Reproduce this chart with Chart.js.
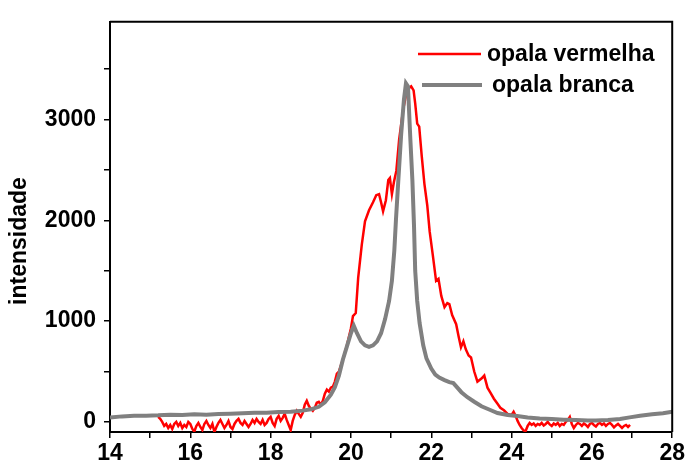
<!DOCTYPE html>
<html>
  <head>
    <meta charset="utf-8" />
    <title>opala</title>
    <style>
      body { margin: 0; background: #fff; }
      canvas { display: block; }
    </style>
  </head>
  <body>
    <canvas id="myChart" width="687" height="467"></canvas>

    <script src="https://cdn.jsdelivr.net/npm/chart.js@4/dist/chart.umd.min.js"></script>
    <script>
      // values
      const redLabel = "opala vermelha";
      const grayLabel = "opala branca";

      const redX = [
        15.2, 15.25, 15.3, 15.35, 15.4, 15.45, 15.5, 15.55, 15.6, 15.65, 15.7, 15.75,
        15.8, 15.85, 15.9, 15.95, 16.0, 16.05, 16.1, 16.15, 16.2, 16.25, 16.3, 16.35,
        16.4, 16.45, 16.5, 16.55, 16.6, 16.65, 16.7, 16.75, 16.8, 16.85, 16.9, 16.95,
        17.0, 17.05, 17.1, 17.15, 17.2, 17.25, 17.3, 17.35, 17.4, 17.45, 17.5, 17.55,
        17.6, 17.65, 17.7, 17.75, 17.8, 17.85, 17.9, 17.95, 18.0, 18.05, 18.1, 18.15,
        18.2, 18.25, 18.3, 18.35, 18.4, 18.45, 18.5, 18.55, 18.6, 18.65, 18.7, 18.75,
        18.8, 18.85, 18.9, 18.95, 19.0, 19.05, 19.1, 19.15, 19.2, 19.25, 19.3, 19.35,
        19.4, 19.45, 19.5, 19.55, 19.6, 19.65, 19.7, 19.75, 19.8, 19.9,
        20.0, 20.05, 20.12, 20.18, 20.27, 20.35, 20.45, 20.55, 20.63, 20.7,
        20.75, 20.8, 20.87, 20.93, 20.97, 21.02, 21.07, 21.13, 21.2, 21.3, 21.4,
        21.5, 21.56, 21.6, 21.65, 21.7, 21.76, 21.83, 21.9, 21.96, 22.04, 22.12,
        22.18, 22.25, 22.33, 22.4, 22.45, 22.52, 22.62, 22.68, 22.74, 22.8, 22.86,
        22.93, 22.99, 23.07, 23.15, 23.25, 23.32, 23.4, 23.48, 23.56, 23.65, 23.72,
        23.81, 23.9, 24.0, 24.05, 24.1, 24.15, 24.2, 24.25, 24.3, 24.35, 24.4, 24.45,
        24.5, 24.55, 24.6, 24.65, 24.7, 24.75, 24.8, 24.85, 24.9, 24.95, 25.0, 25.05,
        25.1, 25.15, 25.2, 25.25, 25.3, 25.35, 25.4, 25.45, 25.5, 25.55, 25.6, 25.65,
        25.7, 25.75, 25.8, 25.85, 25.9, 25.95, 26.0, 26.05, 26.1, 26.15, 26.2, 26.25,
        26.3, 26.35, 26.4, 26.45, 26.5, 26.55, 26.6, 26.65, 26.7, 26.75, 26.8, 26.85,
        26.9, 26.95
      ];
      const redY = [
        50, 30, 0, -40, -20, -60, -30, -70, -20, 0, -40, -10,
        -60, -30, -50, 0, -20, -70, -95, -40, -10, -50, -80, -20,
        10, -30, -60, -20, -100, -50, -10, 20, -20, -60, -30, 10,
        -50, -70, -20, 10, 30, -10, -30, 10, -20, -50, -20, 20,
        -10, 30, 0, -20, 20, -30, -10, 30, 50, -10, -40, 30,
        60, 10, 40, 80, 20, -30, -80, 10, 70, 110, 80, 50,
        90, 170, 210, 160, 130, 110, 140, 190, 200, 170, 210, 280,
        320, 300, 340, 350, 400, 480, 500, 560, 620, 760,
        930, 1050, 1080, 1430, 1760, 1990, 2100, 2180, 2250, 2260,
        2180, 2090, 2200, 2400, 2420, 2260, 2380, 2490, 2800, 3100, 3300,
        3330, 3290, 3160, 2960, 2930, 2650, 2360, 2150, 1890, 1650, 1400,
        1420, 1250, 1140, 1180, 1170, 1060, 970, 850, 740, 800, 720,
        660, 640, 500, 400, 430, 460, 340, 285, 230, 180, 140,
        115, 80, 70, 100, 60, 10, -30, -60, -85, -90, -40, -10,
        -30, -15, -40, -20, -30, -10, -35, -20, 0, -25, -40, -15,
        -30, -10, -40, -20, -30, 0, 20, 50, -20, -60, -30, -10,
        -20, -40, -15, -30, -50, -20, -10, -30, -45, -20, -10, -30,
        -15, -40, -20, -10, -30, -55, -35, -20, -40, -60, -40, -30,
        -50, -30
      ];

      const grayX = [
        14.0, 14.3, 14.6, 14.9, 15.2, 15.5, 15.8, 16.1, 16.4, 16.7, 17.0, 17.3,
        17.6, 17.9, 18.2, 18.5, 18.8, 19.0, 19.2, 19.35, 19.5, 19.6, 19.7, 19.8,
        19.9, 20.0, 20.07, 20.15, 20.25, 20.35, 20.45, 20.55, 20.65, 20.75, 20.85,
        20.95, 21.02, 21.08, 21.12, 21.18, 21.25, 21.32, 21.37, 21.42, 21.48,
        21.53, 21.57, 21.6, 21.65, 21.71, 21.8, 21.88, 22.0, 22.1, 22.2, 22.33,
        22.45, 22.55, 22.65, 22.75, 22.9, 23.07, 23.25, 23.47, 23.65, 23.9, 24.14,
        24.4, 24.7, 25.0, 25.3, 25.6, 25.9, 26.1, 26.4, 26.7, 26.94, 27.2, 27.5,
        27.77, 28.0
      ];
      const grayY = [
        45, 55, 60, 62, 65, 72, 68, 75, 72, 78, 82, 85,
        90, 92, 98, 102, 112, 125, 150, 195, 270, 345, 460, 620,
        750, 880, 955, 880, 800, 760, 745, 760, 800, 880, 1020,
        1200, 1400, 1700, 2000, 2400, 2850, 3200, 3360, 3330, 2800,
        2400, 1950, 1500, 1200, 980, 760, 630, 530, 470, 440, 415,
        395, 385, 340, 295, 245, 200, 155, 118, 88, 68, 58,
        45, 35, 28, 22, 18, 15, 14, 20, 30, 45, 62, 75,
        86, 100
      ];

      const yTickValues = [0, 500, 1000, 1500, 2000, 2500, 3000, 3500];
      const yLabelValues = [0, 1000, 2000, 3000];

      const boldFont = { family: "'Liberation Sans', Arial, sans-serif", size: 23, weight: "bold" };

      function toPoints(xs, ys) {
        return xs.map((x, i) => ({ x: x, y: ys[i] }));
      }

      // box round the plot, y title and the legend in the corner
      const decor = {
        id: "decor",
        afterDraw(chart) {
          const ctx = chart.ctx;
          const a = chart.chartArea;
          ctx.save();
          ctx.strokeStyle = "#000";
          ctx.lineWidth = 2;
          ctx.beginPath();
          ctx.moveTo(a.left, a.top);
          ctx.lineTo(a.right, a.top);
          ctx.lineTo(a.right, a.bottom);
          ctx.stroke();

          ctx.fillStyle = "#000";
          ctx.font = "bold 23px 'Liberation Sans', Arial, sans-serif";
          ctx.translate(20, 241);
          ctx.rotate(-Math.PI / 2);
          ctx.textAlign = "center";
          ctx.textBaseline = "middle";
          ctx.fillText("intensidade", 0, 0);
          ctx.restore();

          ctx.save();
          ctx.font = "bold 23px 'Liberation Sans', Arial, sans-serif";
          ctx.textBaseline = "middle";
          ctx.fillStyle = "#000";
          const items = [
            { ds: chart.data.datasets[0], x0: 418, x1: 481, tx: 487, y: 54 },
            { ds: chart.data.datasets[1], x0: 422, x1: 482, tx: 492, y: 85 },
          ];
          items.forEach((it) => {
            ctx.strokeStyle = it.ds.borderColor;
            ctx.lineWidth = it.ds.borderWidth;
            ctx.beginPath();
            ctx.moveTo(it.x0, it.y);
            ctx.lineTo(it.x1, it.y);
            ctx.stroke();
            ctx.fillText(it.ds.label, it.tx, it.y + 1);
          });
          ctx.restore();
        },
      };

      const ctx = document.getElementById("myChart").getContext("2d");
      const myChart = new Chart(ctx, {
        type: "line",
        data: {
          datasets: [
            {
              label: redLabel,
              data: toPoints(redX, redY),
              borderColor: "#ff0000",
              borderWidth: 2.5,
              pointRadius: 0,
              tension: 0,
              order: 1,
            },
            {
              label: grayLabel,
              data: toPoints(grayX, grayY),
              borderColor: "#808080",
              borderWidth: 4,
              pointRadius: 0,
              tension: 0,
              order: 0,
            },
          ],
        },
        options: {
          responsive: false,
          animation: false,
          layout: { padding: { top: 20, right: 11, left: 0, bottom: 0 } },
          plugins: { legend: { display: false }, tooltip: { enabled: false } },
          scales: {
            x: {
              type: "linear",
              min: 14,
              max: 28,
              border: { display: true, color: "#000", width: 2 },
              grid: { drawOnChartArea: false, color: "#000", lineWidth: 1.5, tickLength: 6 },
              ticks: {
                stepSize: 1,
                color: "#000",
                font: boldFont,
                padding: 2,
                maxRotation: 0,
                autoSkip: false,
                callback: (v) => (v % 2 === 0 ? v : ""),
              },
              afterFit: (s) => { s.height = 35; },
            },
            y: {
              type: "linear",
              min: -100,
              max: 3970,
              border: { display: true, color: "#000", width: 2 },
              grid: { drawOnChartArea: false, color: "#000", lineWidth: 1.5, tickLength: 6 },
              ticks: {
                color: "#000",
                font: boldFont,
                padding: 8,
                callback: (v) => (yLabelValues.includes(v) ? v : ""),
              },
              afterBuildTicks: (s) => { s.ticks = yTickValues.map((v) => ({ value: v })); },
              afterFit: (s) => { s.width = 110; },
            },
          },
        },
        plugins: [decor],
      });
    </script>
  </body>
</html>
